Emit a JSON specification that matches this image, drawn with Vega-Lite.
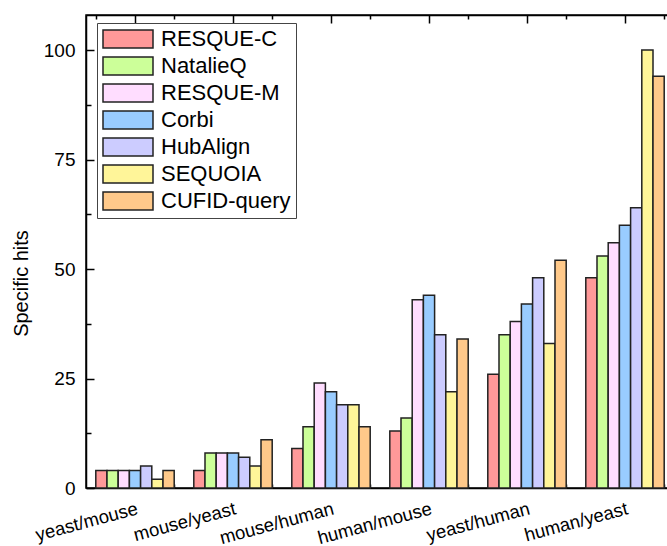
{
  "$schema": "https://vega.github.io/schema/vega-lite/v6.json",
  "autosize": "none",
  "padding": {"left": 86, "top": 15, "right": 0, "bottom": 58},
  "width": 588,
  "height": 473,
  "config": {
    "font": "Liberation Sans",
    "view": {"stroke": "#000", "strokeWidth": 1.5},
    "axis": {"domainColor": "#000", "tickColor": "#000", "labelColor": "#000", "titleColor": "#000", "grid": false, "domainWidth": 1.5, "tickWidth": 1.5, "labelFont": "Liberation Sans", "titleFont": "Liberation Sans", "titleFontWeight": "normal"}
  },
  "data": {"values": [
    {"pair": "yeast/mouse", "method": "RESQUE-C", "value": 4},
    {"pair": "yeast/mouse", "method": "NatalieQ", "value": 4},
    {"pair": "yeast/mouse", "method": "RESQUE-M", "value": 4},
    {"pair": "yeast/mouse", "method": "Corbi", "value": 4},
    {"pair": "yeast/mouse", "method": "HubAlign", "value": 5},
    {"pair": "yeast/mouse", "method": "SEQUOIA", "value": 2},
    {"pair": "yeast/mouse", "method": "CUFID-query", "value": 4},
    {"pair": "mouse/yeast", "method": "RESQUE-C", "value": 4},
    {"pair": "mouse/yeast", "method": "NatalieQ", "value": 8},
    {"pair": "mouse/yeast", "method": "RESQUE-M", "value": 8},
    {"pair": "mouse/yeast", "method": "Corbi", "value": 8},
    {"pair": "mouse/yeast", "method": "HubAlign", "value": 7},
    {"pair": "mouse/yeast", "method": "SEQUOIA", "value": 5},
    {"pair": "mouse/yeast", "method": "CUFID-query", "value": 11},
    {"pair": "mouse/human", "method": "RESQUE-C", "value": 9},
    {"pair": "mouse/human", "method": "NatalieQ", "value": 14},
    {"pair": "mouse/human", "method": "RESQUE-M", "value": 24},
    {"pair": "mouse/human", "method": "Corbi", "value": 22},
    {"pair": "mouse/human", "method": "HubAlign", "value": 19},
    {"pair": "mouse/human", "method": "SEQUOIA", "value": 19},
    {"pair": "mouse/human", "method": "CUFID-query", "value": 14},
    {"pair": "human/mouse", "method": "RESQUE-C", "value": 13},
    {"pair": "human/mouse", "method": "NatalieQ", "value": 16},
    {"pair": "human/mouse", "method": "RESQUE-M", "value": 43},
    {"pair": "human/mouse", "method": "Corbi", "value": 44},
    {"pair": "human/mouse", "method": "HubAlign", "value": 35},
    {"pair": "human/mouse", "method": "SEQUOIA", "value": 22},
    {"pair": "human/mouse", "method": "CUFID-query", "value": 34},
    {"pair": "yeast/human", "method": "RESQUE-C", "value": 26},
    {"pair": "yeast/human", "method": "NatalieQ", "value": 35},
    {"pair": "yeast/human", "method": "RESQUE-M", "value": 38},
    {"pair": "yeast/human", "method": "Corbi", "value": 42},
    {"pair": "yeast/human", "method": "HubAlign", "value": 48},
    {"pair": "yeast/human", "method": "SEQUOIA", "value": 33},
    {"pair": "yeast/human", "method": "CUFID-query", "value": 52},
    {"pair": "human/yeast", "method": "RESQUE-C", "value": 48},
    {"pair": "human/yeast", "method": "NatalieQ", "value": 53},
    {"pair": "human/yeast", "method": "RESQUE-M", "value": 56},
    {"pair": "human/yeast", "method": "Corbi", "value": 60},
    {"pair": "human/yeast", "method": "HubAlign", "value": 64},
    {"pair": "human/yeast", "method": "SEQUOIA", "value": 100},
    {"pair": "human/yeast", "method": "CUFID-query", "value": 94}
  ]},
  "layer": [
    {
      "mark": {"type": "bar", "stroke": "#222", "strokeWidth": 1.5},
      "encoding": {
        "x": {"field": "pair", "type": "nominal", "sort": ["yeast/mouse", "mouse/yeast", "mouse/human", "human/mouse", "yeast/human", "human/yeast"], "scale": {"paddingInner": 0.2, "paddingOuter": 0.1},
          "axis": {"orient": "bottom", "title": null, "labelAngle": -15, "labelAlign": "right", "labelBaseline": "top", "labelFontSize": 18.5, "tickSize": -8, "labelPadding": 19}},
        "xOffset": {"field": "method", "type": "nominal", "sort": ["RESQUE-C", "NatalieQ", "RESQUE-M", "Corbi", "HubAlign", "SEQUOIA", "CUFID-query"]},
        "y": {"field": "value", "type": "quantitative", "scale": {"domain": [0, 108], "nice": false},
          "axis": {"orient": "left", "values": [0, 25, 50, 75, 100], "title": "Specific hits", "titleFontSize": 20, "labelFontSize": 19, "tickSize": -8, "labelPadding": 19, "titleX": -55, "titleY": 268, "titleAngle": -90, "titleAlign": "center", "titleBaseline": "bottom"}},
        "color": {"field": "method", "type": "nominal", "sort": ["RESQUE-C", "NatalieQ", "RESQUE-M", "Corbi", "HubAlign", "SEQUOIA", "CUFID-query"],
          "scale": {"domain": ["RESQUE-C", "NatalieQ", "RESQUE-M", "Corbi", "HubAlign", "SEQUOIA", "CUFID-query"], "range": ["#FF9999", "#CCFF99", "#FFDDFF", "#99CCFF", "#CCCCFF", "#FFF599", "#FFC98A"]},
          "legend": {"orient": "none", "legendX": 11, "legendY": 8, "title": null, "symbolType": "M-1,-0.9H4V0.9H-1Z", "symbolSize": 400, "symbolStrokeColor": "#222", "symbolStrokeWidth": 1.5, "symbolOpacity": 1, "labelFontSize": 22, "labelFont": "Liberation Sans", "labelColor": "#000", "strokeColor": "#444", "fillColor": "#fff", "padding": 5, "rowPadding": 3, "labelOffset": 37}}
      }
    },
    {
      "mark": {"type": "bar", "opacity": 0},
      "encoding": {
        "x": {"field": "pair", "type": "nominal", "sort": ["yeast/mouse", "mouse/yeast", "mouse/human", "human/mouse", "yeast/human", "human/yeast"],
          "axis": {"orient": "bottom", "title": null, "labels": false, "domain": false, "tickBand": "extent", "tickSize": -4}},
        "y": {"field": "value", "type": "quantitative",
          "axis": {"orient": "left", "values": [12.5, 37.5, 62.5, 87.5], "title": null, "labels": false, "domain": false, "tickSize": -5}}
      }
    },
    {
      "mark": {"type": "bar", "opacity": 0},
      "encoding": {
        "x": {"field": "pair", "type": "nominal", "sort": ["yeast/mouse", "mouse/yeast", "mouse/human", "human/mouse", "yeast/human", "human/yeast"],
          "axis": {"orient": "top", "title": null, "labels": false, "domain": true, "tickSize": -8}},
        "y": {"field": "value", "type": "quantitative", "axis": null}
      }
    },
    {
      "mark": {"type": "bar", "opacity": 0},
      "encoding": {
        "x": {"field": "pair", "type": "nominal", "sort": ["yeast/mouse", "mouse/yeast", "mouse/human", "human/mouse", "yeast/human", "human/yeast"],
          "axis": {"orient": "top", "title": null, "labels": false, "domain": false, "tickBand": "extent", "tickSize": -4}},
        "y": {"field": "value", "type": "quantitative", "axis": null}
      }
    }
  ],
  "resolve": {"axis": {"x": "independent", "y": "independent"}}
}
